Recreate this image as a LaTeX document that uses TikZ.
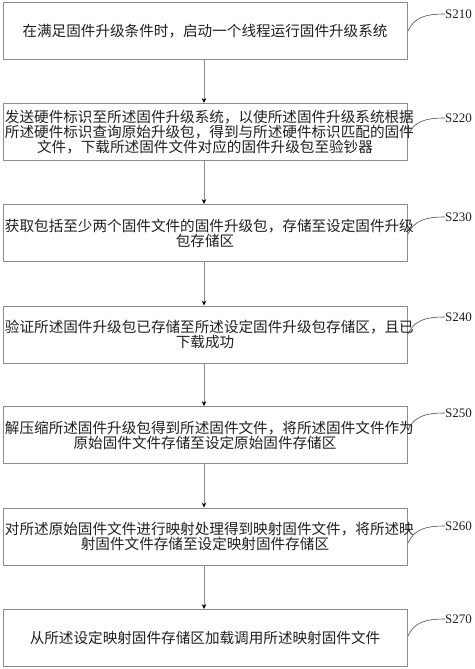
\documentclass[tikz,border=0pt]{standalone}
\usepackage{fontspec}
\setmainfont{Liberation Serif}
\newfontfamily\cjk{Noto Sans CJK SC}
\usetikzlibrary{arrows.meta}
\definecolor{boxline}{gray}{0.55}
\definecolor{txt}{gray}{0.12}
\tikzset{
  stepbox/.style={draw=boxline, line width=0.9pt, minimum width=404pt, minimum height=57pt,
    text width=400pt, align=center, inner sep=0pt, text=txt,
    font=\cjk\fontsize{14.6}{15}\selectfont},
  flow/.style={draw=boxline, line width=0.8pt, -{Stealth[length=5pt,width=4.5pt,color=black]}},
  steplabel/.style={anchor=west, inner sep=0pt, text=txt, font=\fontsize{13}{13}\selectfont},
  leader/.style={draw=txt!80, line width=0.6pt}
}
\begin{document}
\begin{tikzpicture}[x=1pt,y=-1pt]
\useasboundingbox (0,0) rectangle (474,669);
\node[stepbox] (b1) at (205,31) {在满足固件升级条件时，启动一个线程运行固件升级系统};
\node[stepbox] (b2) at (205,132) {发送硬件标识至所述固件升级系统，以使所述固件升级系统根据\\所述硬件标识查询原始升级包，得到与所述硬件标识匹配的固件\\文件，下载所述固件文件对应的固件升级包至验钞器};
\node[stepbox] (b3) at (205,233) {获取包括至少两个固件文件的固件升级包，存储至设定固件升级\\包存储区};
\node[stepbox] (b4) at (205,334.5) {验证所述固件升级包已存储至所述设定固件升级包存储区，且已\\下载成功};
\node[stepbox] (b5) at (205,435) {解压缩所述固件升级包得到所述固件文件，将所述固件文件作为\\原始固件文件存储至设定原始固件存储区};
\node[stepbox] (b6) at (205,536.5) {对所述原始固件文件进行映射处理得到映射固件文件，将所述映\\射固件文件存储至设定映射固件存储区};
\node[stepbox] (b7) at (205,638) {从所述设定映射固件存储区加载调用所述映射固件文件};
\foreach \a/\b in {b1/b2,b2/b3,b3/b4,b4/b5,b5/b6,b6/b7}
  \draw[flow] (\a.south -| 204,0) -- (\b.north -| 204,0);
\foreach \n/\t/\ly in {b1/S210/14,b2/S220/118,b3/S230/217,b4/S240/317,b5/S250/413,b6/S260/526,b7/S270/619}{
  \node[steplabel] (l\n) at (445,\ly) {\t};
  \coordinate (s\n) at (408,\ly+17);
  \draw[leader] (s\n) .. controls (414,\ly+4) and (424,\ly) .. (l\n.west);
}
\end{tikzpicture}
\end{document}
